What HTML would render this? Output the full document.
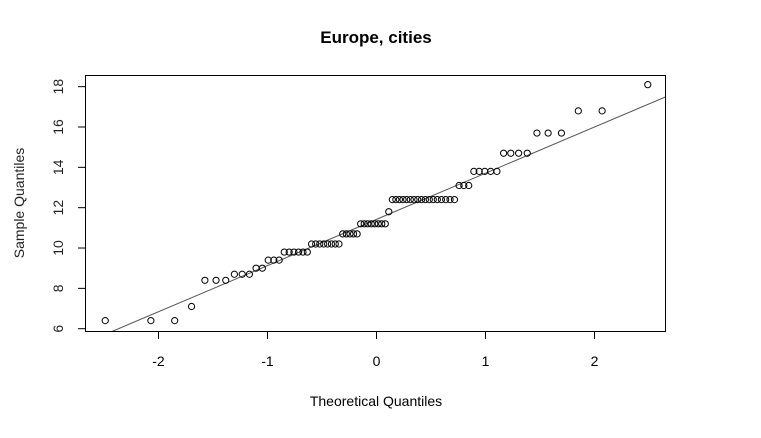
<!DOCTYPE html>
<html><head><meta charset="utf-8"><style>
html,body{margin:0;padding:0;background:#fff}
svg{display:block;font-family:"Liberation Sans",Arial,sans-serif}
</style></head><body>
<svg id="chart" width="761" height="438" viewBox="0 0 761 438">
<rect width="761" height="438" fill="#fff"/>
<text x="376" y="43" text-anchor="middle" font-size="17" font-weight="bold">Europe, cities</text>
<text x="376" y="406" text-anchor="middle" font-size="14">Theoretical Quantiles</text>
<text transform="translate(24,203) rotate(-90)" text-anchor="middle" font-size="14" fill="#222">Sample Quantiles</text>
<g id="axes"></g>
<g id="marks"></g>
<rect x="85.5" y="75.5" width="580" height="256" fill="none" stroke="#000" stroke-width="1"/>
</svg>
<script>
const levels = [6.4, 7.1, 8.4, 8.7, 9.0, 9.4, 9.8, 10.2, 10.7, 11.2, 11.8, 12.4, 13.1, 13.8, 14.7, 15.7, 16.8, 18.1];
const counts = [3, 1, 3, 3, 2, 3, 6, 8, 5, 8, 1, 17, 3, 5, 4, 3, 2, 1];
const xTicks = [-2, -1, 0, 1, 2];
const yTicks = [6, 8, 10, 12, 14, 16, 18];
const qqLineParams = [11.42, 2.29]; // intercept, slope of reference line

const NS = "http://www.w3.org/2000/svg";
function X(v){ return 376.5 + v * 109; }
function Y(v){ return 328.7 - (v - 6) * 20.17; }
function qnorm(p){
  const a=[-39.69683028665376,220.9460984245205,-275.9285104469687,138.3577518672690,-30.66479806614716,2.506628277459239];
  const b=[-54.47609879822406,161.5858368580409,-155.6989798598866,66.80131188771972,-13.28068155288572];
  const c=[-0.007784894002430293,-0.3223964580411365,-2.400758277161838,-2.549732539343734,4.374664141464968,2.938163982698783];
  const d=[0.007784695709041462,0.3224671290700398,2.445134137142996,3.754408661907416];
  const pl=0.02425;let q,r;
  if(p<pl){q=Math.sqrt(-2*Math.log(p));return (((((c[0]*q+c[1])*q+c[2])*q+c[3])*q+c[4])*q+c[5])/((((d[0]*q+d[1])*q+d[2])*q+d[3])*q+1);}
  if(p>1-pl){q=Math.sqrt(-2*Math.log(1-p));return -(((((c[0]*q+c[1])*q+c[2])*q+c[3])*q+c[4])*q+c[5])/((((d[0]*q+d[1])*q+d[2])*q+d[3])*q+1);}
  q=p-0.5;r=q*q;return (((((a[0]*r+a[1])*r+a[2])*r+a[3])*r+a[4])*r+a[5])*q/(((((b[0]*r+b[1])*r+b[2])*r+b[3])*r+b[4])*r+1);
}
function mk(tag, attrs, parent){ const e=document.createElementNS(NS,tag); for(const k in attrs) e.setAttribute(k, attrs[k]); parent.appendChild(e); return e; }

const axes = document.getElementById('axes');
const marks = document.getElementById('marks');
xTicks.forEach(t=>{
  const l = mk('line',{x1:X(t),x2:X(t),y1:331.5,y2:339,stroke:'#000'},axes);
  
  
  const tx = mk('text',{x:X(t),y:366,'text-anchor':'middle','font-size':'14'},axes);
  tx.textContent = t;
  
  
});
yTicks.forEach(t=>{
  const l = mk('line',{x1:78,x2:85.5,y1:Y(t),y2:Y(t),stroke:'#000'},axes);
  
  
  const tx = mk('text',{transform:`translate(63,${Y(t)}) rotate(-90)`,'text-anchor':'middle','font-size':'14',fill:'#222'},axes);
  tx.textContent = t;
  
  
});

const vals = [];
levels.forEach((v,i)=>{ for(let k=0;k<counts[i];k++) vals.push(v); });
vals.sort((a,b)=>a-b);
const n = vals.length;
const aa = n <= 10 ? 3/8 : 0.5;
const th = vals.map((v,i)=>qnorm((i+1-aa)/(n+1-2*aa)));

const svgClip = mk('clipPath',{id:'clip'},document.getElementById('chart'));
mk('rect',{x:85.5,y:75.5,width:580,height:256},svgClip);
const icpt = qqLineParams[0], slope = qqLineParams[1];
const xa=-3, xb=3;
const line = mk('line',{x1:X(xa),y1:Y(icpt+slope*xa),x2:X(xb),y2:Y(icpt+slope*xb),stroke:'#555','stroke-width':'1','clip-path':'url(#clip)'},marks);



vals.forEach((v,i)=>{
  const c = mk('circle',{cx:X(th[i]),cy:Y(v),r:3.1,fill:'none',stroke:'#000','stroke-width':'1'},marks);
  
  
});
</script>
</body></html>
